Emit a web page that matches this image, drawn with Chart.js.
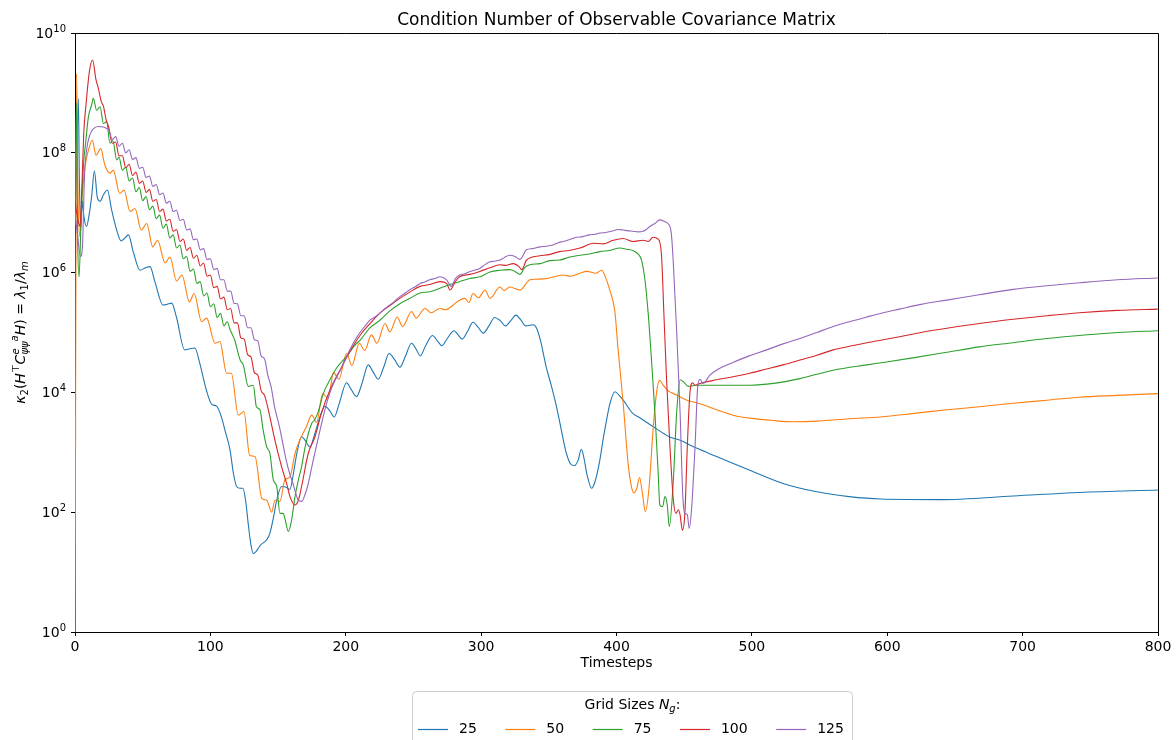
<!DOCTYPE html>
<html>
<head>
<meta charset="utf-8">
<script src="https://cdn.jsdelivr.net/npm/chart.js@4/dist/chart.umd.min.js"></script>
<style>
  html, body { margin: 0; padding: 0; background: #fff; }
</style>
</head>
<body>
<canvas id="myChart" width="1176" height="740"></canvas>
<script>
// Grid sizes N_g and their line colours (matplotlib tab10)
const gridSizes = ['25', '50', '75', '100', '125'];
const lineColors = ['#1f77b4', '#ff7f0e', '#2ca02c', '#d62728', '#9467bd'];

// Axis ticks
const xTicks = [0, 100, 200, 300, 400, 500, 600, 700, 800];
const yTickExps = [0, 2, 4, 6, 8, 10];

// Timesteps and log10 of the condition number, one pair per grid size
const t25 = [0, 1.2, 2.5, 3.2, 4.2, 5.5, 6.5, 8.5, 10.6, 12.3,
  14.3, 16.5, 18.5, 21, 24, 27, 30.8, 34, 36.5, 39.5,
  43, 48, 52, 55.4, 59, 65, 68, 71.4, 75, 81,
  85, 88.6, 92, 97, 101, 104.6, 108, 111, 114.5, 117,
  119.4, 122, 124, 126, 128, 130, 131.7, 134, 137, 141.6,
  144, 146.5, 149, 152.6, 155.5, 158.8, 161, 164, 167.4, 170,
  173.5, 177, 181, 184.6, 188, 191.5, 195, 200.6, 204, 208,
  212, 216.6, 220, 224, 228, 232, 236, 240, 244, 248.6,
  252, 255, 259, 264, 268, 271, 275, 280, 283, 286,
  290, 294, 298, 301.6, 306, 310, 314, 318, 322, 325.7,
  329, 333, 336, 338.5, 341, 344, 348, 352, 355.7, 359,
  363, 366.8, 369, 371.7, 374, 376, 378, 381.6, 384, 387.7,
  390, 392.7, 395, 398.8, 402, 405, 412, 417, 427, 439,
  447, 459, 474, 498.5, 523, 548, 572, 595, 639, 693,
  742, 800];
const logK25 = [6.8, 7.8, 8.9, 7.6, 6.7, 7.2, 6.95, 6.77, 6.99, 7.27,
  7.7, 7.25, 7.19, 7.3, 7.38, 7.05, 6.71, 6.53, 6.57, 6.63,
  6.35, 6.04, 6.08, 6.1, 5.85, 5.46, 5.47, 5.49, 5.25, 4.71,
  4.73, 4.74, 4.5, 4.04, 3.8, 3.77, 3.6, 3.35, 3.04, 2.65,
  2.43, 2.4, 2.4, 2.2, 1.8, 1.45, 1.31, 1.35, 1.45, 1.54,
  1.65, 1.9, 2.2, 2.43, 2.42, 2.38, 2.6, 3.0, 3.26, 3.2,
  3.09, 3.3, 3.6, 3.77, 3.7, 3.59, 3.8, 4.16, 4.05, 3.93,
  4.15, 4.46, 4.35, 4.22, 4.42, 4.65, 4.55, 4.42, 4.6, 4.82,
  4.72, 4.61, 4.78, 4.95, 4.85, 4.78, 4.9, 5.03, 4.96, 4.89,
  5.02, 5.17, 5.08, 4.99, 5.12, 5.25, 5.2, 5.11, 5.2, 5.29,
  5.22, 5.11, 5.12, 5.13, 5.07, 4.85, 4.43, 4.1, 3.76, 3.4,
  2.98, 2.79, 2.78, 2.87, 3.05, 2.9, 2.65, 2.4, 2.5, 2.87,
  3.2, 3.54, 3.8, 4.01, 3.95, 3.87, 3.65, 3.58, 3.43, 3.26,
  3.2, 3.07, 2.93, 2.7, 2.48, 2.34, 2.26, 2.22, 2.21, 2.27,
  2.33, 2.37];

const t50 = [0, 1.2, 2, 3.5, 5, 7.4, 10, 12.8, 15.5, 19,
  22, 25.8, 28.3, 33, 36.2, 40.6, 44.3, 49, 53, 57.4,
  61, 66.5, 70.2, 75, 79, 84.5, 88, 93.5, 97.2, 103.4,
  107, 112, 115.5, 120.6, 124.8, 129, 133, 138, 141.6, 145.3,
  147.7, 151.4, 155, 158.8, 162.5, 166, 171, 174.8, 178.5, 183,
  187, 191, 195, 200.6, 204.5, 210, 214, 219, 223, 229,
  232.6, 238, 242, 248.6, 252, 258.5, 263, 269.6, 274, 279.4,
  284, 288, 291, 294, 298, 303, 306.5, 313.9, 317, 321,
  328.7, 336, 341, 348, 354, 360.6, 366, 373, 378, 385,
  389, 391.4, 395, 398.8, 401, 405, 408.6, 411, 412.8, 415,
  417, 419, 421.3, 424, 427, 429.6, 431.8, 434.5, 438, 444,
  452, 461.6, 474, 486, 498.5, 516, 530.5, 548, 572, 595,
  620, 644, 668, 693, 718, 742, 770, 800];
const logK50 = [-1, 9.32, 7.6, 6.6, 7.2, 7.77, 8.05, 8.21, 7.96, 8.07,
  7.8, 7.66, 7.71, 7.32, 7.38, 7.02, 7.07, 6.71, 6.82, 6.43,
  6.54, 6.16, 6.26, 5.86, 5.96, 5.51, 5.65, 5.18, 5.24, 4.82,
  4.85, 4.32, 4.32, 3.62, 3.68, 2.95, 2.93, 2.23, 2.2, 2.0,
  2.2, 2.18, 2.54, 2.59, 2.98, 3.2, 3.43, 3.62, 3.5, 3.98,
  3.9, 4.33, 4.22, 4.65, 4.45, 4.82, 4.7, 4.96, 4.82, 5.15,
  5.01, 5.26, 5.1, 5.35, 5.24, 5.4, 5.33, 5.4, 5.38, 5.46,
  5.54, 5.57, 5.5, 5.65, 5.58, 5.71, 5.57, 5.76, 5.7, 5.76,
  5.71, 5.88, 5.89, 5.9, 5.93, 5.96, 5.94, 5.99, 6.02, 5.99,
  6.04, 5.95, 5.71, 5.35, 4.76, 3.8, 2.81, 2.43, 2.32, 2.4,
  2.58, 2.34, 2.01, 2.4, 3.37, 4.0, 4.2, 4.12, 4.03, 3.96,
  3.87, 3.81, 3.71, 3.62, 3.57, 3.53, 3.51, 3.52, 3.56, 3.59,
  3.65, 3.71, 3.76, 3.82, 3.87, 3.92, 3.95, 3.98];

const t75 = [0, 1, 2, 3, 4.5, 6.2, 8, 9.9, 12.3, 13.5,
  16, 18.5, 21, 23.4, 25.8, 28, 30.8, 32.5, 35, 37.5,
  40, 42.5, 45, 47.5, 50, 52.5, 55, 57.5, 60, 62.5,
  65, 67.5, 70, 72.5, 75, 77.5, 80, 82.5, 85, 87.5,
  90, 92.5, 95, 97.5, 100, 102.5, 105, 107.5, 110, 112.5,
  114.5, 118, 122, 124.3, 128, 131.7, 134, 136.6, 139, 141.6,
  144, 146.5, 149, 151.4, 153.8, 155, 157.6, 160, 162.5, 165,
  167.4, 170, 174.8, 177, 179.7, 183.4, 188.3, 193, 200.6, 206.8,
  210.5, 218, 225, 232.6, 240, 247.4, 254.8, 262, 269.6, 277,
  284.3, 291.7, 299, 306.5, 313.9, 321, 325, 328.7, 332, 336,
  343.4, 350.8, 358, 365.6, 373, 380, 387.7, 395, 402.5, 407.4,
  412, 416, 418.5, 421, 423.4, 426, 428.4, 430.8, 432, 434,
  435.8, 437.5, 439, 442, 444.4, 447, 449.3, 453, 459, 474,
  498.5, 516, 535.5, 560, 585, 597, 620, 644, 668, 693,
  718, 742, 770, 800];
const logK75 = [7.0, 8.83, 6.5, 5.93, 6.9, 7.77, 8.2, 8.6, 8.8, 8.91,
  8.71, 8.77, 8.49, 8.52, 8.16, 8.2, 7.88, 7.93, 7.71, 7.76,
  7.53, 7.58, 7.35, 7.42, 7.20, 7.27, 7.05, 7.11, 6.90, 6.96,
  6.74, 6.81, 6.58, 6.63, 6.41, 6.46, 6.23, 6.27, 6.02, 6.06,
  5.82, 5.85, 5.61, 5.66, 5.43, 5.48, 5.25, 5.32, 5.11, 5.18,
  5.05, 4.87, 4.54, 4.46, 4.1, 4.12, 3.76, 3.71, 3.37, 3.09,
  2.98, 2.54, 2.43, 1.98, 1.98, 1.9, 1.68, 1.87, 2.26, 2.54,
  2.76, 3.09, 3.48, 3.54, 3.68, 3.98, 4.21, 4.4, 4.6, 4.79,
  4.87, 5.08, 5.2, 5.36, 5.48, 5.57, 5.66, 5.68, 5.74, 5.8,
  5.85, 5.9, 5.93, 6.01, 6.04, 6.05, 6.02, 5.97, 6.08, 6.13,
  6.15, 6.2, 6.21, 6.26, 6.29, 6.31, 6.35, 6.37, 6.41, 6.39,
  6.37, 6.31, 6.21, 5.88, 5.32, 4.49, 3.65, 2.65, 2.12, 2.09,
  2.26, 2.12, 1.76, 2.54, 3.65, 4.21, 4.18, 4.1, 4.12, 4.12,
  4.12, 4.15, 4.23, 4.37, 4.46, 4.5, 4.58, 4.67, 4.76, 4.83,
  4.9, 4.95, 5.0, 5.03];

const t100 = [0, 2, 3.7, 5, 6.6, 8, 10.6, 13, 15.5, 17.2,
  19.5, 21, 23, 25, 27.5, 30, 32.5, 35, 37.5, 40,
  42.5, 45, 47.5, 50, 52.5, 55, 57.5, 60, 62.5, 65,
  67.5, 70, 72.5, 75, 77.5, 80, 82.5, 85, 87.5, 90,
  92.5, 95, 97.5, 100, 102.5, 105, 107.5, 110, 112.5, 115,
  117.5, 120, 122.5, 125, 127.5, 130, 132.5, 135, 137.5, 140,
  142.8, 147.7, 152.6, 156.3, 158.8, 162.5, 165, 167.4, 172.3, 177.3,
  182, 188.3, 195.7, 203, 210.5, 218, 225, 232.6, 240, 247,
  254.8, 262, 269.6, 274.5, 277, 281, 284, 291.7, 299, 306.5,
  313.9, 318, 323.7, 328, 330, 333.6, 343.4, 350, 358, 365,
  373, 383, 390, 397.6, 405, 412, 419.7, 423.4, 427, 430.8,
  433.3, 435, 437, 439.5, 442, 444, 445.8, 447, 448.7, 450.5,
  452.3, 454.2, 456.2, 458, 461.6, 474, 486, 498.5, 510.8, 523,
  535.5, 548, 560, 572, 585, 597, 609, 625, 644, 668,
  693, 718, 742, 770, 800];
const logK100 = [7.2, 6.9, 6.77, 7.38, 8.38, 8.77, 9.35, 9.55, 9.22, 9.08,
  8.85, 8.78, 8.55, 8.42, 8.16, 8.18, 7.95, 7.95, 7.75, 7.81,
  7.62, 7.68, 7.49, 7.53, 7.34, 7.39, 7.19, 7.22, 7.02, 7.06,
  6.86, 6.89, 6.69, 6.72, 6.52, 6.56, 6.37, 6.42, 6.24, 6.29,
  6.11, 6.16, 5.94, 5.96, 5.75, 5.77, 5.56, 5.59, 5.38, 5.40,
  5.16, 5.16, 4.91, 4.89, 4.63, 4.59, 4.33, 4.29, 4.03, 3.95,
  3.71, 3.2, 2.76, 2.48, 2.26, 2.12, 2.2, 2.43, 2.98, 3.26,
  3.65, 4.04, 4.37, 4.68, 4.95, 5.15, 5.32, 5.45, 5.57, 5.67,
  5.77, 5.8, 5.85, 5.82, 5.71, 5.85, 5.93, 5.97, 6.02, 6.08,
  6.13, 6.12, 6.15, 6.1, 6.05, 6.21, 6.28, 6.3, 6.35, 6.37,
  6.41, 6.49, 6.48, 6.54, 6.57, 6.52, 6.54, 6.52, 6.59, 6.56,
  6.27, 5.32, 4.21, 3.09, 2.2, 1.98, 2.04, 1.95, 1.7, 1.98,
  3.09, 3.98, 4.16, 4.12, 4.15, 4.21, 4.26, 4.32, 4.39, 4.46,
  4.54, 4.62, 4.71, 4.77, 4.83, 4.88, 4.93, 5.0, 5.07, 5.15,
  5.22, 5.28, 5.33, 5.37, 5.39];

const t125 = [0, 2, 4, 5.5, 7, 8.6, 11, 13.5, 17, 21,
  23, 25, 27.5, 30, 32.5, 35, 37.5, 40, 42.5, 45,
  47.5, 50, 52.5, 55, 57.5, 60, 62.5, 65, 67.5, 70,
  72.5, 75, 77.5, 80, 82.5, 85, 87.5, 90, 92.5, 95,
  97.5, 100, 102.5, 105, 107.5, 110, 112.5, 115, 117.5, 120,
  122.5, 125, 127.5, 130, 132.5, 135, 137.5, 140, 142.5, 145,
  147.5, 151, 153.5, 156, 158.5, 161, 163, 165, 167.5, 170,
  172, 176, 181, 184.5, 188, 192, 196, 200, 203, 207,
  210.5, 214, 218, 221, 225, 229, 232.6, 236, 240, 244,
  247, 251, 255, 258, 262, 266, 269.6, 274.5, 278, 281,
  284, 288, 291.7, 295, 299, 302, 306.5, 310, 314, 317,
  321, 325, 328.7, 333.6, 338, 343.4, 348, 353, 357, 360.6,
  365, 370.5, 375, 380, 384, 387.7, 392, 397.6, 401, 405,
  408, 412, 416, 419.7, 422, 424.7, 428.4, 432, 435.8, 438,
  440.5, 442, 444.4, 447, 449, 450.5, 452.3, 453.7, 455.4, 458,
  460, 461.6, 464, 469, 476, 486, 498, 511, 523, 535.5,
  548, 560, 572, 585, 597, 609, 625, 644, 668, 693,
  718, 742, 770, 800];
const logK125 = [7.0, 6.6, 6.27, 6.43, 7.6, 8.05, 8.3, 8.4, 8.44, 8.43,
  8.41, 8.38, 8.22, 8.27, 8.11, 8.16, 8.0, 8.05, 7.89, 7.92,
  7.74, 7.76, 7.59, 7.61, 7.44, 7.47, 7.30, 7.33, 7.16, 7.19,
  7.02, 7.04, 6.87, 6.89, 6.71, 6.73, 6.55, 6.56, 6.38, 6.40,
  6.22, 6.23, 6.05, 6.07, 5.88, 5.88, 5.69, 5.69, 5.49, 5.48,
  5.28, 5.28, 5.08, 5.08, 4.88, 4.86, 4.61, 4.56, 4.28, 4.08,
  3.75, 3.43, 3.15, 2.87, 2.65, 2.48, 2.32, 2.2, 2.18, 2.3,
  2.45, 2.87, 3.37, 3.7, 3.98, 4.2, 4.37, 4.57, 4.71, 4.88,
  5.0, 5.1, 5.21, 5.25, 5.32, 5.4, 5.46, 5.52, 5.6, 5.66,
  5.71, 5.76, 5.82, 5.84, 5.88, 5.9, 5.93, 5.88, 5.77, 5.9,
  5.96, 5.98, 6.02, 6.04, 6.07, 6.12, 6.18, 6.19, 6.21, 6.25,
  6.29, 6.27, 6.22, 6.38, 6.4, 6.43, 6.44, 6.46, 6.5, 6.52,
  6.55, 6.59, 6.6, 6.63, 6.64, 6.66, 6.67, 6.7, 6.72, 6.71,
  6.7, 6.69, 6.68, 6.69, 6.72, 6.77, 6.82, 6.88, 6.85, 6.82,
  6.65, 6.15, 5.04, 3.65, 2.26, 1.98, 1.96, 1.73, 2.04, 3.09,
  4.1, 4.22, 4.15, 4.29, 4.4, 4.5, 4.61, 4.71, 4.81, 4.9,
  5.0, 5.1, 5.18, 5.26, 5.33, 5.39, 5.47, 5.54, 5.63, 5.72,
  5.78, 5.83, 5.88, 5.91];

const steps = [t25, t50, t75, t100, t125];
const logK = [logK25, logK50, logK75, logK100, logK125];

const FONT = "'DejaVu Sans', sans-serif";

// draw a row of text pieces (for sub/superscripts); stacked pieces don't advance
function runsWidth(ctx, runs) {
  let w = 0;
  runs.forEach(r => {
    ctx.font = (r.i ? 'italic ' : '') + (r.s || 14) + 'px ' + FONT;
    if (!r.stack) w += ctx.measureText(r.t).width;
  });
  return w;
}
function drawRuns(ctx, runs, x, y) {
  let cx = x;
  runs.forEach(r => {
    ctx.font = (r.i ? 'italic ' : '') + (r.s || 14) + 'px ' + FONT;
    ctx.fillText(r.t, cx, y + (r.dy || 0));
    if (!r.stack) cx += ctx.measureText(r.t).width;
  });
}

const yLabelRuns = [
  { t: '\u03ba', i: 1 }, { t: '2', s: 10, dy: 4 }, { t: '(' },
  { t: 'H', i: 1 }, { t: '\u22a4', s: 10, dy: -5 }, { t: 'C', i: 1 },
  { t: 'e', s: 10, dy: -5, i: 1, stack: 1 }, { t: '\u03c8\u03c8', s: 10, dy: 4, i: 1 },
  { t: 'a', s: 10, dy: -6, i: 1 }, { t: 'H', i: 1 }, { t: ')' }, { t: ' = ' },
  { t: '\u03bb', i: 1 }, { t: '1', s: 10, dy: 4 }, { t: '/' },
  { t: '\u03bb', i: 1 }, { t: 'm', s: 10, dy: 4, i: 1 }
];
const legendTitleRuns = [
  { t: 'Grid Sizes ' }, { t: 'N', i: 1 }, { t: 'g', s: 10, dy: 4, i: 1 }, { t: ':' }
];

const decorations = {
  id: 'decorations',
  afterDraw(chart) {
    const ctx = chart.ctx;
    const a = chart.chartArea;
    const yScale = chart.scales.y;
    ctx.save();
    ctx.fillStyle = '#000';

    // top and right spines
    ctx.strokeStyle = '#000';
    ctx.lineWidth = 1;
    ctx.beginPath();
    ctx.moveTo(a.left, Math.round(a.top) + 0.5);
    ctx.lineTo(a.right + 0.5, Math.round(a.top) + 0.5);
    ctx.lineTo(Math.round(a.right) + 0.5, a.bottom);
    ctx.stroke();

    // y tick labels as 10 with a raised exponent
    ctx.textBaseline = 'middle';
    ctx.textAlign = 'left';
    yTickExps.forEach(e => {
      const py = yScale.getPixelForValue(Math.pow(10, e));
      const runs = [{ t: '10' }, { t: String(e), s: 10, dy: -5 }];
      const w = runsWidth(ctx, runs);
      drawRuns(ctx, runs, a.left - 9 - w, py + 1);
    });

    // title and x label
    ctx.textAlign = 'center';
    ctx.font = '17px ' + FONT;
    ctx.fillText('Condition Number of Observable Covariance Matrix', (a.left + a.right) / 2, 21);
    ctx.font = '14px ' + FONT;
    ctx.fillText('Timesteps', (a.left + a.right) / 2, 663);

    // y label, rotated
    ctx.textAlign = 'left';
    ctx.save();
    ctx.translate(21, (a.top + a.bottom) / 2);
    ctx.rotate(-Math.PI / 2);
    const w = runsWidth(ctx, yLabelRuns);
    drawRuns(ctx, yLabelRuns, -w / 2, 0);
    ctx.restore();

    // legend box
    const bx = 412.5, by = 691.5, bw = 440, bh = 70;
    ctx.fillStyle = 'rgba(255,255,255,0.8)';
    ctx.strokeStyle = '#cccccc';
    ctx.beginPath();
    ctx.roundRect(bx, by, bw, bh, 4);
    ctx.fill();
    ctx.stroke();

    ctx.fillStyle = '#000';
    const tw = runsWidth(ctx, legendTitleRuns);
    drawRuns(ctx, legendTitleRuns, bx + bw / 2 - tw / 2, 705);

    let x = 418;
    ctx.font = '14px ' + FONT;
    chart.data.datasets.forEach(ds => {
      ctx.strokeStyle = ds.borderColor;
      ctx.lineWidth = 1.2;
      ctx.beginPath();
      ctx.moveTo(x, 729.5);
      ctx.lineTo(x + 30, 729.5);
      ctx.stroke();
      ctx.fillStyle = '#000';
      ctx.fillText(ds.label, x + 41, 729);
      x += 41 + ctx.measureText(ds.label).width + 28.5;
    });
    ctx.restore();
  }
};

const datasets = gridSizes.map((g, k) => ({
  label: g,
  data: steps[k].map((t, i) => ({ x: t, y: Math.pow(10, logK[k][i]) })),
  borderColor: lineColors[k],
  borderWidth: 1.1,
  pointRadius: 0,
  fill: false,
  cubicInterpolationMode: 'monotone',
  order: gridSizes.length - k
}));

const ctx = document.getElementById('myChart').getContext('2d');
const myChart = new Chart(ctx, {
  type: 'line',
  data: { datasets: datasets },
  options: {
    responsive: false,
    animation: false,
    devicePixelRatio: 1,
    layout: { padding: { left: 0, right: 18, top: 33, bottom: 0 } },
    plugins: {
      legend: { display: false },
      title: { display: false },
      tooltip: { enabled: false }
    },
    scales: {
      x: {
        type: 'linear',
        min: 0,
        max: 800,
        afterBuildTicks: s => { s.ticks = xTicks.map(v => ({ value: v })); },
        afterFit: s => { s.height = 108; s.paddingLeft = 0; s.paddingRight = 0; },
        ticks: { color: '#000', font: { family: FONT, size: 14 }, padding: 3, maxRotation: 0 },
        grid: { display: true, drawOnChartArea: false, drawTicks: true, tickLength: 4, color: '#000' },
        border: { display: true, color: '#000', width: 1 }
      },
      y: {
        type: 'logarithmic',
        min: 1,
        max: 1e10,
        afterBuildTicks: s => { s.ticks = yTickExps.map(e => ({ value: Math.pow(10, e) })); },
        afterFit: s => { s.width = 75; s.paddingTop = 0; s.paddingBottom = 0; },
        ticks: { display: false },
        grid: { display: true, drawOnChartArea: false, drawTicks: true, tickLength: 4, color: '#000' },
        border: { display: true, color: '#000', width: 1 }
      }
    }
  },
  plugins: [decorations]
});
</script>
</body>
</html>
